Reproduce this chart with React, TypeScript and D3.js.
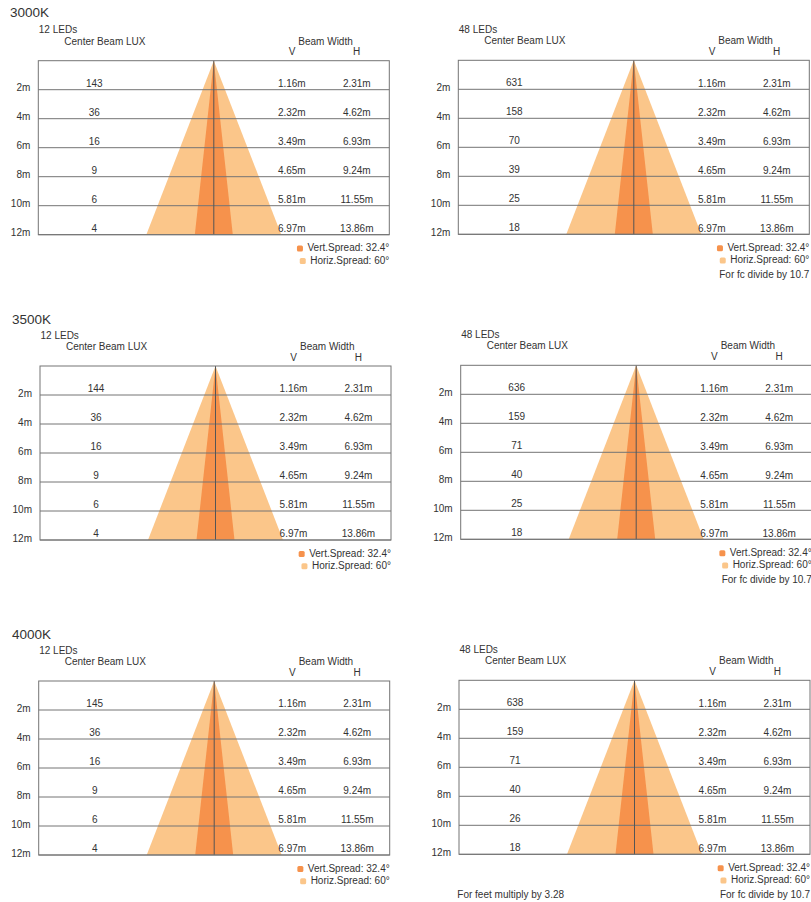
import React, { useEffect, useRef } from "react";
import * as d3 from "d3";

// distance rows (m) and beam widths at each distance
const distances = [2, 4, 6, 8, 10, 12];
const beamV = [1.16, 2.32, 3.49, 4.65, 5.81, 6.97];
const beamH = [2.31, 4.62, 6.93, 9.24, 11.55, 13.86];

// center beam lux per colour temperature
const lux12_3000K = [143, 36, 16, 9, 6, 4];
const lux48_3000K = [631, 158, 70, 39, 25, 18];
const lux12_3500K = [144, 36, 16, 9, 6, 4];
const lux48_3500K = [636, 159, 71, 40, 25, 18];
const lux12_4000K = [145, 36, 16, 9, 6, 4];
const lux48_4000K = [638, 159, 71, 40, 26, 18];

const vertSpread = 32.4;
const horizSpread = 60;

const colors = { horiz: "#fbc68a", vert: "#f6924c", line: "#747474", text: "#333" };
const FONT = "'Liberation Sans', Arial, sans-serif";

const W = 351,
  H = 174;

type Panel = { ox: number; oy: number; leds: string; lux: number[]; fc: boolean; feet?: boolean };

const blocks = [
  {
    title: "3000K", tx: 10, ty: 16.7,
    panels: [
      { ox: 38.3, oy: 60.7, leds: "12 LEDs", lux: lux12_3000K, fc: false },
      { ox: 458.3, oy: 60.3, leds: "48 LEDs", lux: lux48_3000K, fc: true },
    ] as Panel[],
  },
  {
    title: "3500K", tx: 12, ty: 324.3,
    panels: [
      { ox: 40, oy: 366, leds: "12 LEDs", lux: lux12_3500K, fc: false },
      { ox: 460.7, oy: 365.3, leds: "48 LEDs", lux: lux48_3500K, fc: true },
    ] as Panel[],
  },
  {
    title: "4000K", tx: 12, ty: 639,
    panels: [
      { ox: 38.7, oy: 681, leds: "12 LEDs", lux: lux12_4000K, fc: false },
      { ox: 459, oy: 680.3, leds: "48 LEDs", lux: lux48_4000K, fc: true, feet: true },
    ] as Panel[],
  },
];

const App = () => {
  const ref = useRef<SVGSVGElement>(null);

  useEffect(() => {
    const svg = d3.select(ref.current);
    svg.selectAll("*").remove();

    const txt = (g: any, x: number, y: number, s: string, anchor = "start", size = 10) =>
      g
        .append("text")
        .attr("x", x)
        .attr("y", y)
        .attr("text-anchor", anchor)
        .attr("font-size", size)
        .attr("font-family", FONT)
        .attr("fill", colors.text)
        .text(s);

    blocks.forEach((b) => {
      txt(svg, b.tx, b.ty, b.title, "start", 13.5);

      b.panels.forEach((p) => {
        const g = svg.append("g").attr("transform", `translate(${p.ox},${p.oy})`);
        const y = d3.scaleLinear().domain([0, 12]).range([0, H]);
        const cx = W / 2;
        const xH = d3.scaleLinear().domain([0, d3.max(beamH)! / 2]).range([0, 67.5]);
        const xV = d3.scaleLinear().domain([0, d3.max(beamV)! / 2]).range([0, 19]);
        const last = distances.length - 1;
        const dMax = distances[last];

        g.append("rect").attr("width", W).attr("height", H).attr("fill", "#fff");

        const cone = (half: number) =>
          d3.line()([
            [cx, y(0)],
            [cx - half, y(dMax)],
            [cx + half, y(dMax)],
          ]) + "Z";

        g.append("path").attr("d", cone(xH(beamH[last] / 2))).attr("fill", colors.horiz);
        g.append("path").attr("d", cone(xV(beamV[last] / 2))).attr("fill", colors.vert);

        // row lines
        g.selectAll("line.row")
          .data(distances)
          .enter()
          .append("line")
          .attr("class", "row")
          .attr("x1", 0)
          .attr("x2", W)
          .attr("y1", (d) => y(d))
          .attr("y2", (d) => y(d))
          .attr("stroke", colors.line)
          .attr("stroke-width", 1);

        g.append("line")
          .attr("x1", cx)
          .attr("x2", cx)
          .attr("y1", 0)
          .attr("y2", H)
          .attr("stroke", "#555")
          .attr("stroke-width", 1);

        g.append("rect")
          .attr("width", W)
          .attr("height", H)
          .attr("fill", "none")
          .attr("stroke", colors.line)
          .attr("stroke-width", 1);

        // headers
        txt(g, 0.5, -27.5, p.leds);
        txt(g, 26, -16, "Center Beam LUX");
        txt(g, 260, -16, "Beam Width");
        txt(g, 253.7, -5.4, "V", "middle");
        txt(g, 318.4, -5.4, "H", "middle");

        distances.forEach((d, i) => {
          txt(g, -8, y(d) + 1.8, `${d}m`, "end");
          txt(g, 56, y(d) - 3, String(p.lux[i]), "middle");
          txt(g, 253.5, y(d) - 2.7, `${beamV[i].toFixed(2)}m`, "middle");
          txt(g, 318.5, y(d) - 2.7, `${beamH[i].toFixed(2)}m`, "middle");
        });

        // legend
        const leg = [
          { label: `Vert.Spread: ${vertSpread}°`, color: colors.vert, dy: 16.7 },
          { label: `Horiz.Spread: ${horizSpread}°`, color: colors.horiz, dy: 29 },
        ];
        leg.forEach((l) => {
          const t = txt(g, W, H + l.dy, l.label, "end");
          const w = (t.node() as SVGTextElement).getComputedTextLength();
          g.append("rect")
            .attr("x", W - w - 10.5)
            .attr("y", H + l.dy - 5.8)
            .attr("width", 6)
            .attr("height", 6)
            .attr("rx", 1.5)
            .attr("fill", l.color);
        });
        if (p.fc) txt(g, W, H + 43.4, "For fc divide by 10.7", "end");
        if (p.feet) txt(g, -1.7, H + 44, "For feet multiply by 3.28");
      });
    });
  }, []);

  return (
    <svg
      ref={ref}
      width={811}
      height={902}
      style={{ position: "absolute", left: 0, top: 0, background: "#fff" }}
    />
  );
};

export default App;
